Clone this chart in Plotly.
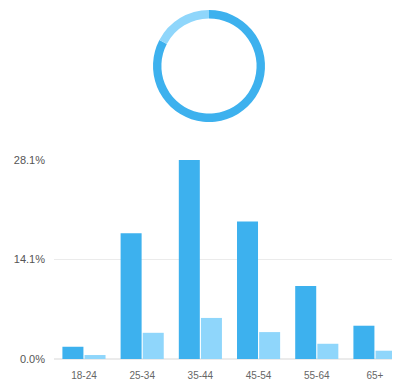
import plotly.graph_objects as go

categories = ["18-24", "25-34", "35-44", "45-54", "55-64", "65+"]
dark_values = [1.73, 17.75, 28.1, 19.4, 10.3, 4.7]
light_values = [0.56, 3.7, 5.8, 3.8, 2.15, 1.17]
y_tick_labels = ["0.0%", "14.1%", "28.1%"]

DARK = "#3db1ee"
LIGHT = "#8fd6fb"

# page has an 8px body margin; lay the figure out in shifted coordinates
W, H, OFF = 392, 372, 8

def px(x):
    return (x - OFF) / W

def py(y):
    return 1 - (y - OFF) / H

ymax = max(dark_values + light_values)
tickvals = [0, ymax / 2, ymax]

fig = go.Figure()
fig.add_trace(go.Bar(x=categories, y=dark_values, marker_color=DARK, marker_line_width=0, showlegend=False))
fig.add_trace(go.Bar(x=categories, y=light_values, marker_color=LIGHT, marker_line_width=0, showlegend=False))

fig.add_trace(go.Pie(
    values=[sum(dark_values), sum(light_values)],
    marker=dict(colors=[DARK, LIGHT], line=dict(width=0)),
    hole=0.85, sort=False, direction="clockwise", rotation=0,
    textinfo="none", hoverinfo="none", showlegend=False,
    domain=dict(x=[px(153), px(265)], y=[py(122), py(10)]),
))

fig.update_layout(
    width=W, height=H,
    margin=dict(l=0, r=0, t=0, b=0, autoexpand=False),
    paper_bgcolor="white", plot_bgcolor="white",
    barmode="group", bargap=0.24, bargroupgap=0.05,
    font=dict(family="Liberation Sans, Arial, sans-serif", color="#666666"),
    xaxis=dict(domain=[px(54), 1], range=[-0.515, 5.43], showgrid=False, showline=False,
               zeroline=False, ticks="", tickfont=dict(size=10, color="#666666"),
               ticklabelstandoff=9, automargin=False),
    yaxis=dict(domain=[py(359), py(160)], range=[0, ymax], tickvals=tickvals,
               ticktext=y_tick_labels, showgrid=True, gridcolor="#ebebeb", gridwidth=1,
               zeroline=True, zerolinecolor="#ebebeb", showline=False, ticks="",
               tickfont=dict(size=11, color="#555555"), ticklabelstandoff=8,
               automargin=False),
)

fig.write_html("out.html")
